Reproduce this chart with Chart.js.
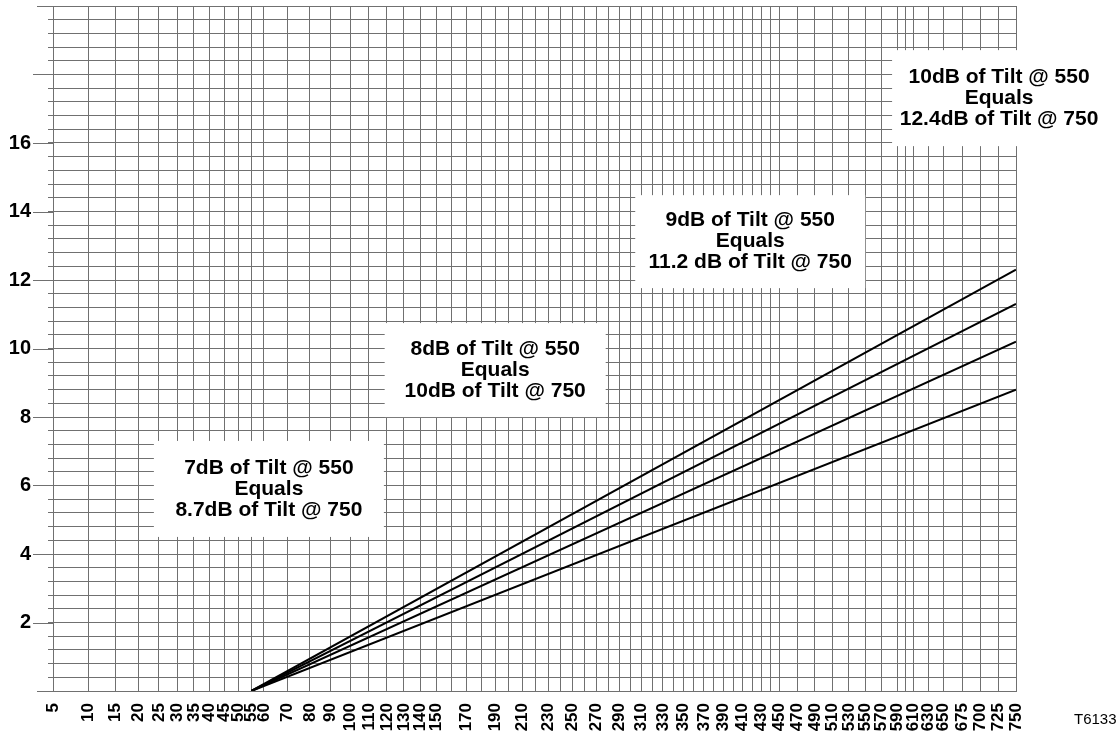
<!DOCTYPE html>
<html lang="en">
<head>
    <meta charset="UTF-8">
    <title>Tilt at 550 vs Tilt at 750</title>
    <script src="https://cdn.jsdelivr.net/npm/chart.js"></script>
    <style>
        html, body {
            margin: 0;
            padding: 0;
            background: #fff;
        }
        .chart-container {
            position: relative;
            width: 1119px;
            height: 736px;
        }
    </style>
</head>
<body>
    <div class="chart-container">
        <canvas id="tiltChart"></canvas>
    </div>

    <script>
        // frequencies (MHz) printed under the x axis
        const xLabels = [5, 10, 15, 20, 25, 30, 35, 40, 45, 50, 55, 60, 70, 80, 90, 100, 110, 120, 130, 140, 150,
            170, 190, 210, 230, 250, 270, 290, 310, 330, 350, 370, 390, 410, 430, 450, 470, 490, 510, 530, 550,
            570, 590, 610, 630, 650, 675, 700, 725, 750];
        // vertical grid lines that carry no label
        const xGridOnly = [160, 180, 200, 220, 240, 260, 280, 300, 320, 340, 360, 380, 400, 420, 440, 600];
        // dB labels on the y axis
        const yLabels = [2, 4, 6, 8, 10, 12, 14, 16];

        // all four lines start from zero tilt here
        const startFreq = 55;
        const endFreq = 750;
        const tiltNames = ['7dB', '8dB', '9dB', '10dB'];
        // tilt read where each line meets the 750 edge
        const tilt750 = [8.8, 10.2, 11.3, 12.3];

        const noteTexts = [
            ['7dB of Tilt @ 550', 'Equals', '8.7dB of Tilt @ 750'],
            ['8dB of Tilt @ 550', 'Equals', '10dB of Tilt @ 750'],
            ['9dB of Tilt @ 550', 'Equals', '11.2 dB of Tilt @ 750'],
            ['10dB of Tilt @ 550', 'Equals', '12.4dB of Tilt @ 750']
        ];

        const FONT = '"Liberation Sans", Arial, Helvetica, sans-serif';
        const GRID = '#707070';

        // axis where distance goes with the square root of the frequency
        class SqrtScale extends Chart.LinearScale {
            getPixelForValue(value) {
                if (value === null || value === undefined) return NaN;
                const a = Math.sqrt(this.min);
                const b = Math.sqrt(this.max);
                return this.getPixelForDecimal((Math.sqrt(value) - a) / (b - a));
            }
            getValueForPixel(pixel) {
                const a = Math.sqrt(this.min);
                const b = Math.sqrt(this.max);
                const s = a + this.getDecimalForPixel(pixel) * (b - a);
                return s * s;
            }
        }
        SqrtScale.id = 'sqrt';
        SqrtScale.defaults = Chart.LinearScale.defaults;
        Chart.register(SqrtScale);

        const xGrid = xLabels.concat(xGridOnly).sort((a, b) => a - b);
        const yGrid = [];
        for (let i = 0; i <= 50; i++) yGrid.push(Math.round(i * 4) / 10);

        // where the white note boxes sit (frequency, dB) and their size in px
        const notePlaces = [
            { f: 62, db: 5.9, w: 230, h: 96 },
            { f: 190, db: 9.37, w: 221, h: 94 },
            { f: 418, db: 13.12, w: 230, h: 93 },
            { f: 726, db: 17.31, w: 214, h: 96 }
        ];

        const noPad = axis => {
            axis.paddingTop = 0;
            axis.paddingBottom = 0;
            axis.paddingLeft = 0;
            axis.paddingRight = 0;
        };

        const notesPlugin = {
            id: 'tiltNotes',
            afterDraw(chart) {
                const { ctx, chartArea, scales } = chart;
                const x = scales.x, y = scales.y;
                ctx.save();

                // longer ticks at every 2 dB
                ctx.strokeStyle = GRID;
                ctx.lineWidth = 1;
                for (let v = 0; v <= 20; v += 2) {
                    const py = Math.round(y.getPixelForValue(v)) + 0.5;
                    const x0 = (v === 0 || v === 20) ? chartArea.left - 16 : chartArea.left - 20;
                    ctx.beginPath();
                    ctx.moveTo(x0, py);
                    ctx.lineTo(chartArea.left, py);
                    ctx.stroke();
                }

                // note boxes
                ctx.font = 'bold 21px ' + FONT;
                ctx.textAlign = 'center';
                ctx.textBaseline = 'middle';
                notePlaces.forEach((n, i) => {
                    const cx = x.getPixelForValue(n.f);
                    const cy = y.getPixelForValue(n.db);
                    ctx.fillStyle = '#fff';
                    ctx.fillRect(cx - n.w / 2, cy - n.h / 2, n.w, n.h);
                    ctx.fillStyle = '#000';
                    noteTexts[i].forEach((line, k) => {
                        ctx.fillText(line, cx, cy + (k - 1) * 21);
                    });
                });

                // drawing number
                ctx.font = '15px ' + FONT;
                ctx.textAlign = 'left';
                ctx.textBaseline = 'alphabetic';
                ctx.fillText('T6133', chart.width - 45, 724);
                ctx.restore();
            }
        };

        new Chart(document.getElementById('tiltChart'), {
            type: 'line',
            data: {
                datasets: tilt750.map((v, i) => ({
                    label: tiltNames[i] + ' @ 550',
                    data: [{ x: startFreq, y: 0 }, { x: endFreq, y: v }],
                    borderColor: '#000',
                    borderWidth: 2,
                    pointRadius: 0,
                    fill: false,
                    tension: 0
                }))
            },
            options: {
                responsive: true,
                maintainAspectRatio: false,
                animation: false,
                layout: {
                    padding: { top: 6, right: 103, left: 0, bottom: 0 }
                },
                plugins: {
                    legend: { display: false },
                    tooltip: { enabled: false }
                },
                scales: {
                    x: {
                        type: 'sqrt',
                        min: 5,
                        max: 750,
                        afterBuildTicks: axis => { axis.ticks = xGrid.map(v => ({ value: v })); },
                        afterFit: axis => { axis.height = 45; noPad(axis); },
                        grid: { color: GRID, lineWidth: 1, drawTicks: false },
                        border: { color: GRID },
                        ticks: {
                            autoSkip: false,
                            maxRotation: 90,
                            minRotation: 90,
                            padding: 12,
                            color: '#000',
                            font: { family: FONT, size: 17, weight: 'bold' },
                            callback: v => xLabels.includes(v) ? String(v) : ''
                        }
                    },
                    y: {
                        min: 0,
                        max: 20,
                        afterBuildTicks: axis => { axis.ticks = yGrid.map(v => ({ value: v })); },
                        afterFit: axis => { axis.width = 53; noPad(axis); },
                        grid: { color: GRID, lineWidth: 1, tickLength: 5 },
                        border: { color: GRID },
                        ticks: {
                            autoSkip: false,
                            padding: 17,
                            color: '#000',
                            font: { family: FONT, size: 20, weight: 'bold' },
                            callback: v => yLabels.includes(v) ? String(v) : ''
                        }
                    }
                }
            },
            plugins: [notesPlugin]
        });
    </script>
</body>
</html>
